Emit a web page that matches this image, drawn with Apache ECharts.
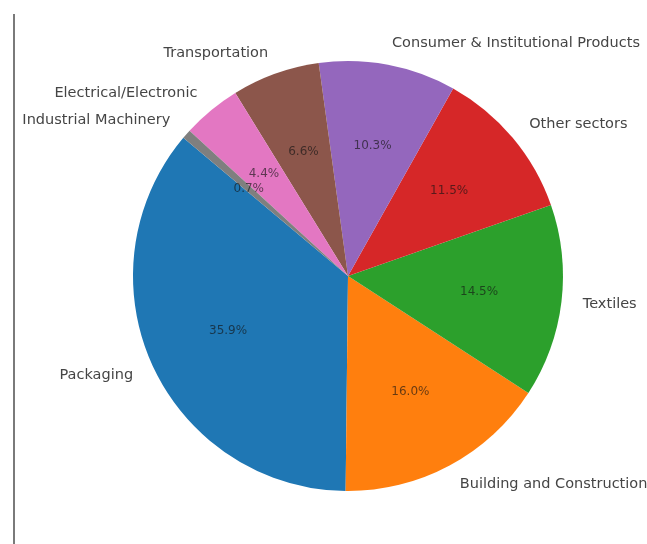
<!DOCTYPE html>
<html>
<head>
<meta charset="utf-8">
<script src="https://cdn.jsdelivr.net/npm/echarts@6/dist/echarts.min.js"></script>
<style>
  html, body { margin: 0; padding: 0; background: #fff; }
  #chart { width: 647px; height: 544px; }
</style>
</head>
<body>
<div id="chart"></div>
<script>
// sectors, counterclockwise from the start angle
const sectors = ['Packaging', 'Building and Construction', 'Textiles', 'Other sectors',
  'Consumer & Institutional Products', 'Transportation', 'Electrical/Electronic', 'Industrial Machinery']
const shares = [35.9, 16.0, 14.5, 11.5, 10.3, 6.6, 4.4, 0.7]
const colors = ['#1f77b4', '#ff7f0e', '#2ca02c', '#d62728', '#9467bd', '#8c564b', '#e377c2', '#7f7f7f']

const center = [348, 276]
const R = 215

const chart = echarts.init(document.getElementById('chart'))

chart.setOption({
  animation: false,
  color: colors,
  graphic: [{
    type: 'line',
    shape: { x1: 14, y1: 14, x2: 14, y2: 544 },
    style: { stroke: '#7a7a7a', lineWidth: 2 }
  }],
  series: [
    {
      // wedges + outer labels (at 1.1 R)
      type: 'pie',
      center: center,
      radius: [0, R],
      startAngle: 140,
      clockwise: false,
      avoidLabelOverlap: false,
      silent: true,
      data: sectors.map((name, i) => ({ name: name, value: shares[i] })),
      label: {
        show: true,
        position: 'outside',
        formatter: '{b}',
        fontFamily: 'DejaVu Sans',
        fontSize: 14.5,
        color: '#454545',
        distanceToLabelLine: 0
      },
      labelLine: { show: false, length: R * 0.1, length2: 0 },
      itemStyle: { borderWidth: 0 }
    },
    {
      // transparent ring only used to place percentages at 0.6 R
      type: 'pie',
      center: center,
      radius: [R * 0.2, R],
      startAngle: 140,
      clockwise: false,
      avoidLabelOverlap: false,
      silent: true,
      data: sectors.map((name, i) => ({ name: name, value: shares[i] })),
      itemStyle: { color: 'rgba(0,0,0,0)' },
      label: {
        show: true,
        position: 'inside',
        formatter: p => p.value.toFixed(1) + '%',
        fontFamily: 'DejaVu Sans',
        fontSize: 12,
        color: 'rgba(20,20,20,0.65)'
      },
      labelLine: { show: false }
    }
  ]
})
</script>
</body>
</html>
